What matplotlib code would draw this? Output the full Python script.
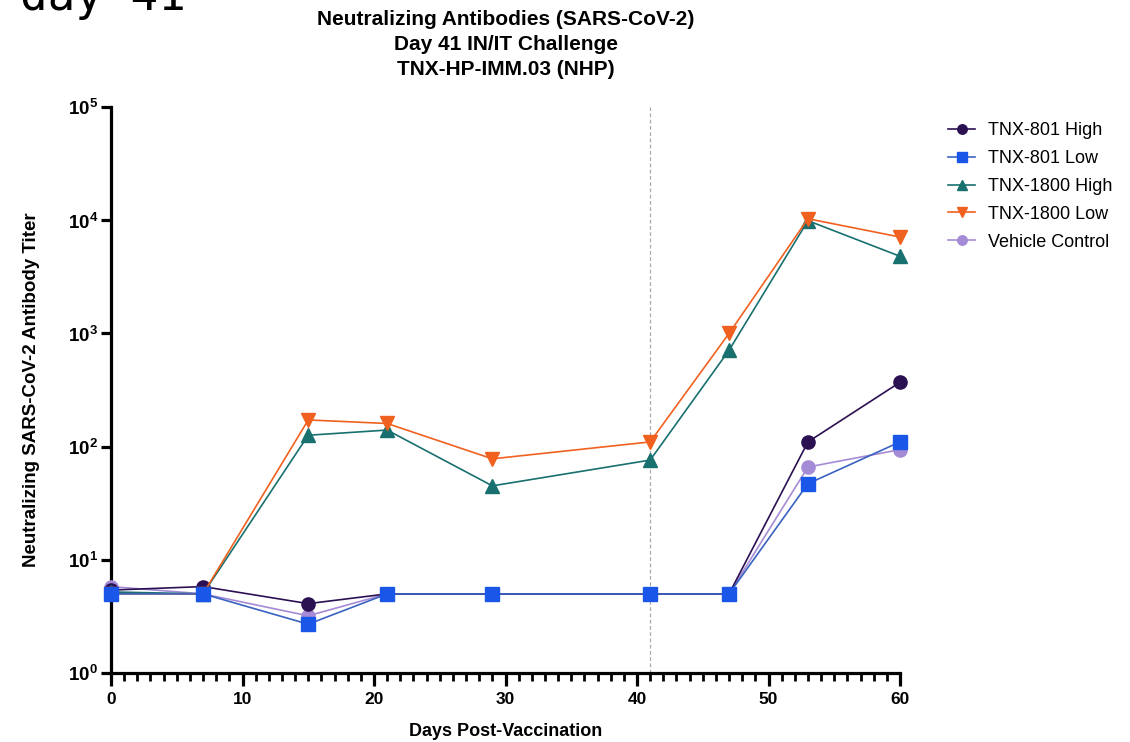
import matplotlib
matplotlib.use("Agg")
import matplotlib.pyplot as plt
from matplotlib.ticker import FixedLocator, MultipleLocator, NullLocator

plt.rcParams["font.family"] = ["Liberation Sans", "DejaVu Sans"]
plt.rcParams["mathtext.fontset"] = "custom"
plt.rcParams["mathtext.rm"] = "Liberation Sans"
plt.rcParams["mathtext.bf"] = "Liberation Sans:bold"

# Sampling days and geometric-mean titers per group
days = [0, 7, 15, 21, 29, 41, 47, 53, 60]
tnx801_high = [5.4, 5.8, 4.1, 5, 5, 5, 5, 110, 370]
tnx801_low = [5, 5, 2.7, 5, 5, 5, 5, 47, 110]
tnx1800_high = [5.2, 5, 126, 140, 45, 76, 710, 9900, 4800]
tnx1800_low = [5, 5, 172, 160, 78, 110, 1000, 10300, 7100]
vehicle = [5.8, 5, 3.2, 5, 5, 5, 5, 66, 94]

group_names = ["TNX-801 High", "TNX-801 Low", "TNX-1800 High",
               "TNX-1800 Low", "Vehicle Control"]
challenge_day = 41
y_exponents = [0, 1, 2, 3, 4, 5]
x_major = [0, 10, 20, 30, 40, 50, 60]

series = [tnx801_high, tnx801_low, tnx1800_high, tnx1800_low, vehicle]
colors = ["#2b1052", "#1a56e8", "#18706f", "#f0611f", "#a58bd5"]
line_colors = ["#2b1052", "#3a62c0", "#18706f", "#f0611f", "#a58bd5"]
markers = ["o", "s", "^", "v", "o"]
msizes = [9.5, 9.5, 9.5, 9.5, 9.5]
zorders = [4, 7, 5, 6, 3]

fig = plt.figure(figsize=(11.3, 7.42), dpi=100)
ax = fig.add_axes([111 / 1130, 1 - 673 / 742, (900 - 111) / 1130, (673 - 107) / 742])

for vals, name, c, lc, m, ms, z in zip(series, group_names, colors, line_colors,
                                       markers, msizes, zorders):
    ax.plot(days, vals, color=lc, markerfacecolor=c, markeredgecolor=c,
            marker=m, markersize=ms, linewidth=1.2, label=name, zorder=z,
            clip_on=False)

ax.axvline(challenge_day, color="#aaaaaa", linestyle=(0, (3, 2)), linewidth=0.9, zorder=1)

ax.set_yscale("log")
ax.set_ylim(1, 1e5)
ax.set_xlim(0, 60)

ax.yaxis.set_major_locator(FixedLocator([10 ** e for e in y_exponents]))
ax.yaxis.set_minor_locator(NullLocator())
ax.set_yticklabels([r"$\mathbf{10}^{\mathbf{%d}}$" % e for e in y_exponents])
ax.xaxis.set_major_locator(FixedLocator(x_major))
ax.xaxis.set_minor_locator(MultipleLocator(1))
ax.set_xticklabels([str(v) for v in x_major])

for side in ["top", "right"]:
    ax.spines[side].set_visible(False)
for side in ["left", "bottom"]:
    ax.spines[side].set_linewidth(2.3)

ax.tick_params(axis="y", which="major", length=7.5, width=2.3, labelsize=13.5, pad=2)
ax.tick_params(axis="x", which="major", length=9.5, width=2.3, labelsize=12.5, pad=4)
ax.tick_params(axis="x", which="minor", length=5.5, width=2.0)
for lbl in ax.get_xticklabels():
    lbl.set_fontweight("bold")

ax.set_xlabel("Days Post-Vaccination", fontsize=13, fontweight="bold", labelpad=12)
ax.set_ylabel("Neutralizing SARS-CoV-2 Antibody Titer", fontsize=13.5,
              fontweight="bold", labelpad=20)

fig.text(506 / 1130, 1 - 10 / 742,
         "Neutralizing Antibodies (SARS-CoV-2)\nDay 41 IN/IT Challenge\nTNX-HP-IMM.03 (NHP)",
         ha="center", va="top", fontsize=15, fontweight="bold", linespacing=1.4)

fig.text(20 / 1130, 1 - 10 / 742, "day 41", ha="left", va="baseline",
         fontsize=33, family="DejaVu Sans Mono")

ax.legend(loc="upper left", bbox_to_anchor=(932 / 1130, 1 - 106 / 742),
          bbox_transform=fig.transFigure, frameon=False, fontsize=13,
          handlelength=1.5, handletextpad=0.7, labelspacing=0.6, markerscale=0.72)

fig.savefig("out.png", dpi=100)
